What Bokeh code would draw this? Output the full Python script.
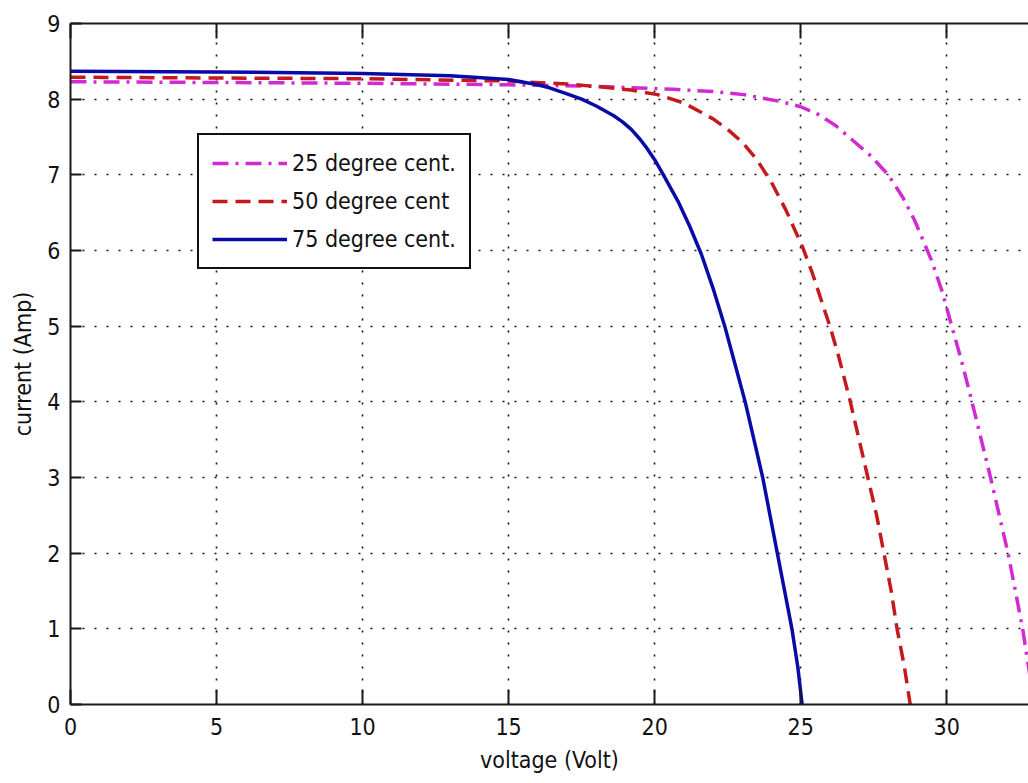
from bokeh.plotting import figure
from bokeh.models import Range1d, LinearAxis, FixedTicker, Legend, LegendItem
from bokeh.embed import file_html
from bokeh.resources import INLINE

# I-V characteristics of a PV module at three cell temperatures
v_25 = [0, 5, 10, 15, 18, 20.65, 22, 23.05, 24.3, 25.0, 25.6, 26.2, 26.8, 27.4, 28.0, 28.5, 28.9,
        29.5, 29.85, 30.15, 30.5, 30.8, 31.15, 31.5, 31.8, 32.1, 32.35, 32.6, 32.8, 33.0]
i_25 = [8.23, 8.22, 8.21, 8.19, 8.17, 8.13, 8.1, 8.06, 7.97, 7.9, 7.8, 7.65, 7.45, 7.25, 7.0, 6.7, 6.4,
        5.85, 5.45, 5.03, 4.55, 4.1, 3.55, 3.0, 2.5, 2.0, 1.5, 1.0, 0.5, 0.0]

v_50 = [0, 5, 10, 15, 17, 18.2, 19.2, 20.1, 21.0, 22.0, 22.5, 23.0, 23.5, 24.0, 24.5, 25.07, 25.4,
        25.7, 26.0, 26.3, 26.7, 27.0, 27.3, 27.6, 27.85, 28.1, 28.3, 28.55, 28.75]
i_50 = [8.29, 8.28, 8.27, 8.24, 8.2, 8.16, 8.12, 8.06, 7.95, 7.74, 7.6, 7.43, 7.2, 6.9, 6.53, 6.04, 5.7,
        5.35, 5.0, 4.6, 4.0, 3.5, 3.0, 2.5, 2.0, 1.5, 1.0, 0.5, 0.0]

v_75 = [0, 5, 10, 13, 15, 16, 16.4, 17.0, 17.5, 18.0, 18.6, 18.9, 19.2, 19.5, 19.7, 20.0, 20.3, 20.8,
        21.2, 21.6, 22.0, 22.4, 22.75, 23.1, 23.4, 23.7, 23.95, 24.2, 24.45, 24.7, 24.9, 25.05]
i_75 = [8.37, 8.36, 8.34, 8.31, 8.26, 8.19, 8.15, 8.07, 8.0, 7.91, 7.78, 7.7, 7.6, 7.47, 7.37, 7.2, 7.0,
        6.65, 6.32, 5.95, 5.5, 5.0, 4.5, 4.0, 3.5, 3.0, 2.5, 2.0, 1.5, 1.0, 0.5, 0.0]

labels = ["25 degree cent.", "50 degree cent", "75 degree cent."]
x_ticks = [0, 5, 10, 15, 20, 25, 30]
y_ticks = [0, 1, 2, 3, 4, 5, 6, 7, 8, 9]

FONT = "DejaVu Sans Condensed, sans-serif"
FSIZE = "23px"
AX = "#1a1a1a"

p = figure(width=1028, height=783,
           x_range=Range1d(0, 32.8), y_range=Range1d(0, 9),
           output_backend="svg", toolbar_location=None,
           min_border_left=70, min_border_right=0,
           min_border_top=23, min_border_bottom=79)
p.outline_line_color = None
p.background_fill_color = "white"
p.border_fill_color = "white"

# curves
r25 = p.line(v_25, i_25, line_color="#d22ad2", line_width=3.5, line_dash="16 7 3 7")
r50 = p.line(v_50, i_50, line_color="#c41a1e", line_width=3.5, line_dash="15 8")
r75 = p.line(v_75, i_75, line_color="#0a0aa8", line_width=3.5)

# axes
for ax in (p.xaxis[0], p.yaxis[0]):
    ax.axis_line_color = AX
    ax.axis_line_width = 2
    ax.major_tick_line_color = AX
    ax.major_tick_line_width = 2
    ax.major_tick_out = 0
    ax.minor_tick_line_color = None
    ax.major_label_text_font = FONT
    ax.major_label_text_font_size = FSIZE
    ax.major_label_text_color = "#111111"
    ax.axis_label_text_font = FONT
    ax.axis_label_text_font_size = FSIZE
    ax.axis_label_text_font_style = "normal"
    ax.axis_label_text_color = "#111111"

p.xaxis[0].ticker = FixedTicker(ticks=x_ticks)
p.yaxis[0].ticker = FixedTicker(ticks=y_ticks)
p.xaxis[0].major_tick_in = 15
p.yaxis[0].major_tick_in = 11
p.xaxis[0].major_label_standoff = 13
p.yaxis[0].major_label_standoff = 10
p.xaxis[0].axis_label = "voltage (Volt)"
p.yaxis[0].axis_label = "current (Amp)"
p.xaxis[0].axis_label_standoff = 9
p.yaxis[0].axis_label_standoff = 8

# top border with inward ticks, no labels
top = LinearAxis(ticker=FixedTicker(ticks=x_ticks))
top.axis_line_color = AX
top.axis_line_width = 2
top.major_tick_line_color = AX
top.major_tick_line_width = 2
top.major_tick_out = 0
top.major_tick_in = 15
top.minor_tick_line_color = None
top.major_label_text_color = None
top.major_label_text_font_size = "0px"
top.major_label_standoff = 0
p.add_layout(top, "above")

# dotted grid
for g in (p.xgrid[0], p.ygrid[0]):
    g.grid_line_color = "#111111"
    g.grid_line_width = 1.6
    g.grid_line_dash = "2 10"
p.xgrid[0].ticker = FixedTicker(ticks=x_ticks)
p.ygrid[0].ticker = FixedTicker(ticks=y_ticks)

legend = Legend(items=[LegendItem(label=labels[0], renderers=[r25]),
                       LegendItem(label=labels[1], renderers=[r50]),
                       LegendItem(label=labels[2], renderers=[r75])],
                location=(127, 435))
legend.glyph_width = 75
legend.glyph_height = 30
legend.label_height = 30
legend.label_standoff = 5
legend.spacing = 8
legend.padding = 13
legend.margin = 0
legend.label_text_font = FONT
legend.label_text_font_size = FSIZE
legend.label_text_color = "#111111"
legend.border_line_color = "#111111"
legend.border_line_alpha = 1.0
legend.border_line_width = 2
legend.background_fill_color = "white"
legend.background_fill_alpha = 1.0
p.add_layout(legend, "center")

open("out.html", "w").write(file_html(p, INLINE))
